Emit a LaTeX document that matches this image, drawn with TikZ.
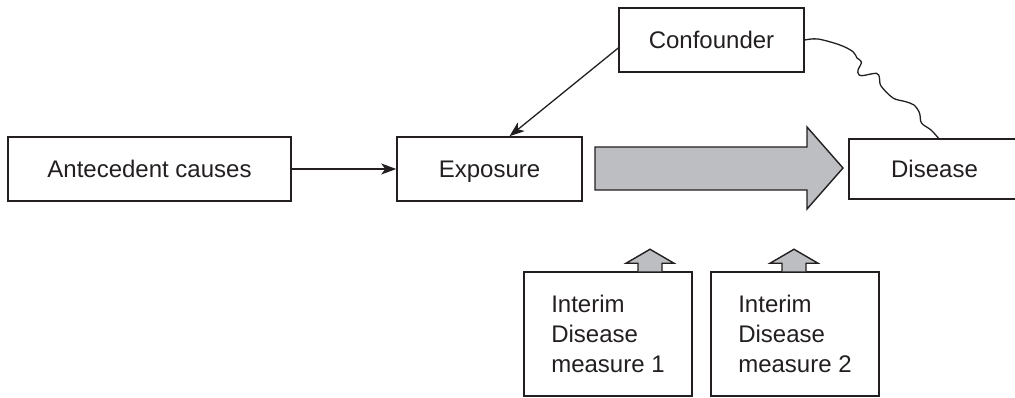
\documentclass[tikz,border=0pt]{standalone}
\usepackage{fontspec}
\setmainfont{Liberation Sans}
\usetikzlibrary{arrows.meta,calc}
\definecolor{ink}{RGB}{35,31,32}
\definecolor{shade}{RGB}{189,190,193}
\tikzset{
  box/.style={draw=ink, line width=1.5pt, text=ink, inner sep=0pt,
    font=\fontsize{24}{30}\selectfont},
  label/.style={box, text height=17.2pt, text depth=0pt},
  link/.style={draw=ink, line width=1.3pt},
  tip/.style={-{Stealth[length=15pt,width=11pt,inset=4pt]}},
  blockarrow/.style={fill=shade, draw=ink, line width=1.4pt, line join=miter}
}
\begin{document}
\begin{tikzpicture}[x=1pt,y=-1pt]
\useasboundingbox (0,0) rectangle (1015,397);

% boxes
\node[label, minimum width=283pt, minimum height=64pt] (ante) at (149.5,169) {Antecedent causes};
\node[label, minimum width=185pt, minimum height=64pt] (expo) at (489.5,169) {Exposure};
\node[label, minimum width=185pt, minimum height=64pt] (conf) at (711.5,40) {Confounder};
\node[label, minimum width=171pt, minimum height=60pt] (dis) at (934.5,169) {Disease};
\node[box, align=left, minimum width=168pt, minimum height=124pt] (int1) at (608,334) {Interim\\Disease\\measure 1};
\node[box, align=left, minimum width=168pt, minimum height=124pt] (int2) at (795,334) {Interim\\Disease\\measure 2};

% causal arrows
\draw[link, tip] (ante) -- (expo);
\draw[link, tip] ($(conf.west)+(0,8)$) -- ($(expo.north)+(20,0)$);

% wavy association between confounder and disease
\draw[link, line cap=round] plot[smooth, tension=0.55] coordinates {
  (conf.east) (818,39) (840,45) (853,51.7) (857,58) (861.5,62) (858,70) (858.5,74) (862,75.7)
  (876.5,73.3) (879.5,78) (881,86) (893,98) (905,101.5) (914,105)
  (919.5,113) (921.5,123) (931,130) ($(dis.north)+(4,0)$)};

% main block arrow from exposure to disease
\draw[blockarrow] (595,147) -- (807,147) -- (807,127) -- (843,168)
  -- (807,209) -- (807,190) -- (595,190) -- cycle;

% small arrows rising from the interim measures
\foreach \bx/\off in {int1/42, int2/-1}{
  \draw[blockarrow] ($(\bx.north)+(\off-12,0)$) -- ++(0,-8) -- ++(-12,0)
    -- ++(24,-14) -- ++(24,14) -- ++(-12,0) -- ++(0,8);
}
\end{tikzpicture}
\end{document}
